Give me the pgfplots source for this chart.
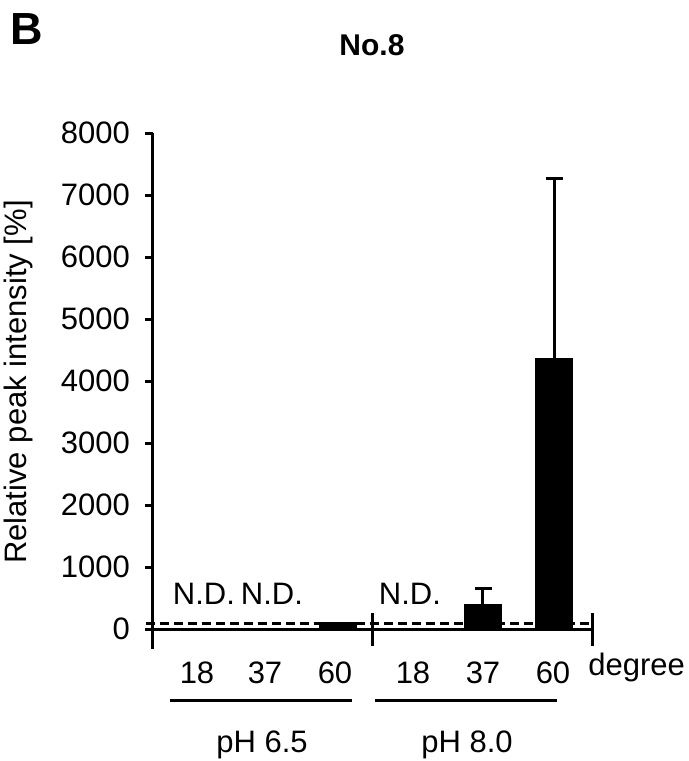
\documentclass[border=0pt]{standalone}
\usepackage{fontspec}
\setmainfont{Liberation Sans}
\usepackage{pgfplots}
\pgfplotsset{compat=1.18}
\newcommand{\lbl}{\fontsize{15.5}{18}\selectfont}
\begin{document}
\begin{tikzpicture}
\path[use as bounding box] (-76.5pt,-66pt) rectangle (268pt,314.5pt);
\begin{axis}[
  scale only axis, width=219.5pt, height=248pt,
  at={(0,0)}, anchor=south west,
  xmin=153, xmax=592, ymin=0, ymax=8000,
  clip=false,
  axis x line*=bottom, axis y line*=left,
  axis line style={line width=1.5pt},
  /pgf/number format/assume math mode=true,
  scaled y ticks=false,
  ytick={0,1000,...,8000},
  yticklabel={\pgfmathprintnumber[fixed,1000 sep={}]{\tick}},
  ytick style={black, line width=1.5pt},
  tick align=outside, major tick length=4pt,
  yticklabel style={font=\lbl, xshift=-4pt},
  xtick={197,265,335,413,483,553},
  xticklabels={18,37,60,18,37,60},
  xtick style={draw=none},
  xticklabel style={font=\lbl, anchor=center, yshift=-18pt},
]
\addplot[ybar, bar width=18.5pt, fill=black, draw=black, bar shift=0pt]
  coordinates {(338,110)};
\addplot[ybar, bar width=18.5pt, fill=black, draw=black, bar shift=0pt,
  error bars/.cd, y dir=plus, y explicit,
  error bar style={line width=1.5pt, black},
  error mark options={rotate=90, mark size=4.25pt, line width=1.5pt, black}]
  coordinates {(483,400) +- (0,250) (554,4370) +- (0,2900)};
\addplot[black, line width=1.3pt, dash pattern=on 4.5pt off 2.5pt]
  coordinates {(146,85) (594,85)};
\node[font=\lbl] at (axis cs:204,560) {N.D.};
\node[font=\lbl] at (axis cs:272,560) {N.D.};
\node[font=\lbl] at (axis cs:410,560) {N.D.};
\draw[line width=1.5pt] ([yshift=8pt]axis cs:153,0) -- ([yshift=-10pt]axis cs:153,0);
\draw[line width=1.5pt] ([yshift=8pt]axis cs:373,0) -- ([yshift=-8.5pt]axis cs:373,0);
\draw[line width=1.5pt] ([yshift=8pt]axis cs:592,0) -- ([yshift=-8.5pt]axis cs:592,0);
\end{axis}
\node[font=\bfseries\fontsize{22.5}{26}\selectfont] at (-63pt,300pt) {B};
\node[font=\bfseries\fontsize{15}{18}\selectfont] at (109.5pt,292pt) {No.8};
\node[font=\lbl, rotate=90] at (-67.5pt,123.5pt) {Relative peak intensity [\%]};
\node[font=\lbl, anchor=base west, inner sep=0pt] at (217.5pt,-23pt) {degree};
\draw[line width=1.5pt] (8.5pt,-35.5pt) -- (99.5pt,-35.5pt);
\draw[line width=1.5pt] (111pt,-35.5pt) -- (202pt,-35.5pt);
\node[font=\lbl] at (54.5pt,-58pt) {pH 6.5};
\node[font=\lbl] at (157pt,-58pt) {pH 8.0};
\end{tikzpicture}
\end{document}
